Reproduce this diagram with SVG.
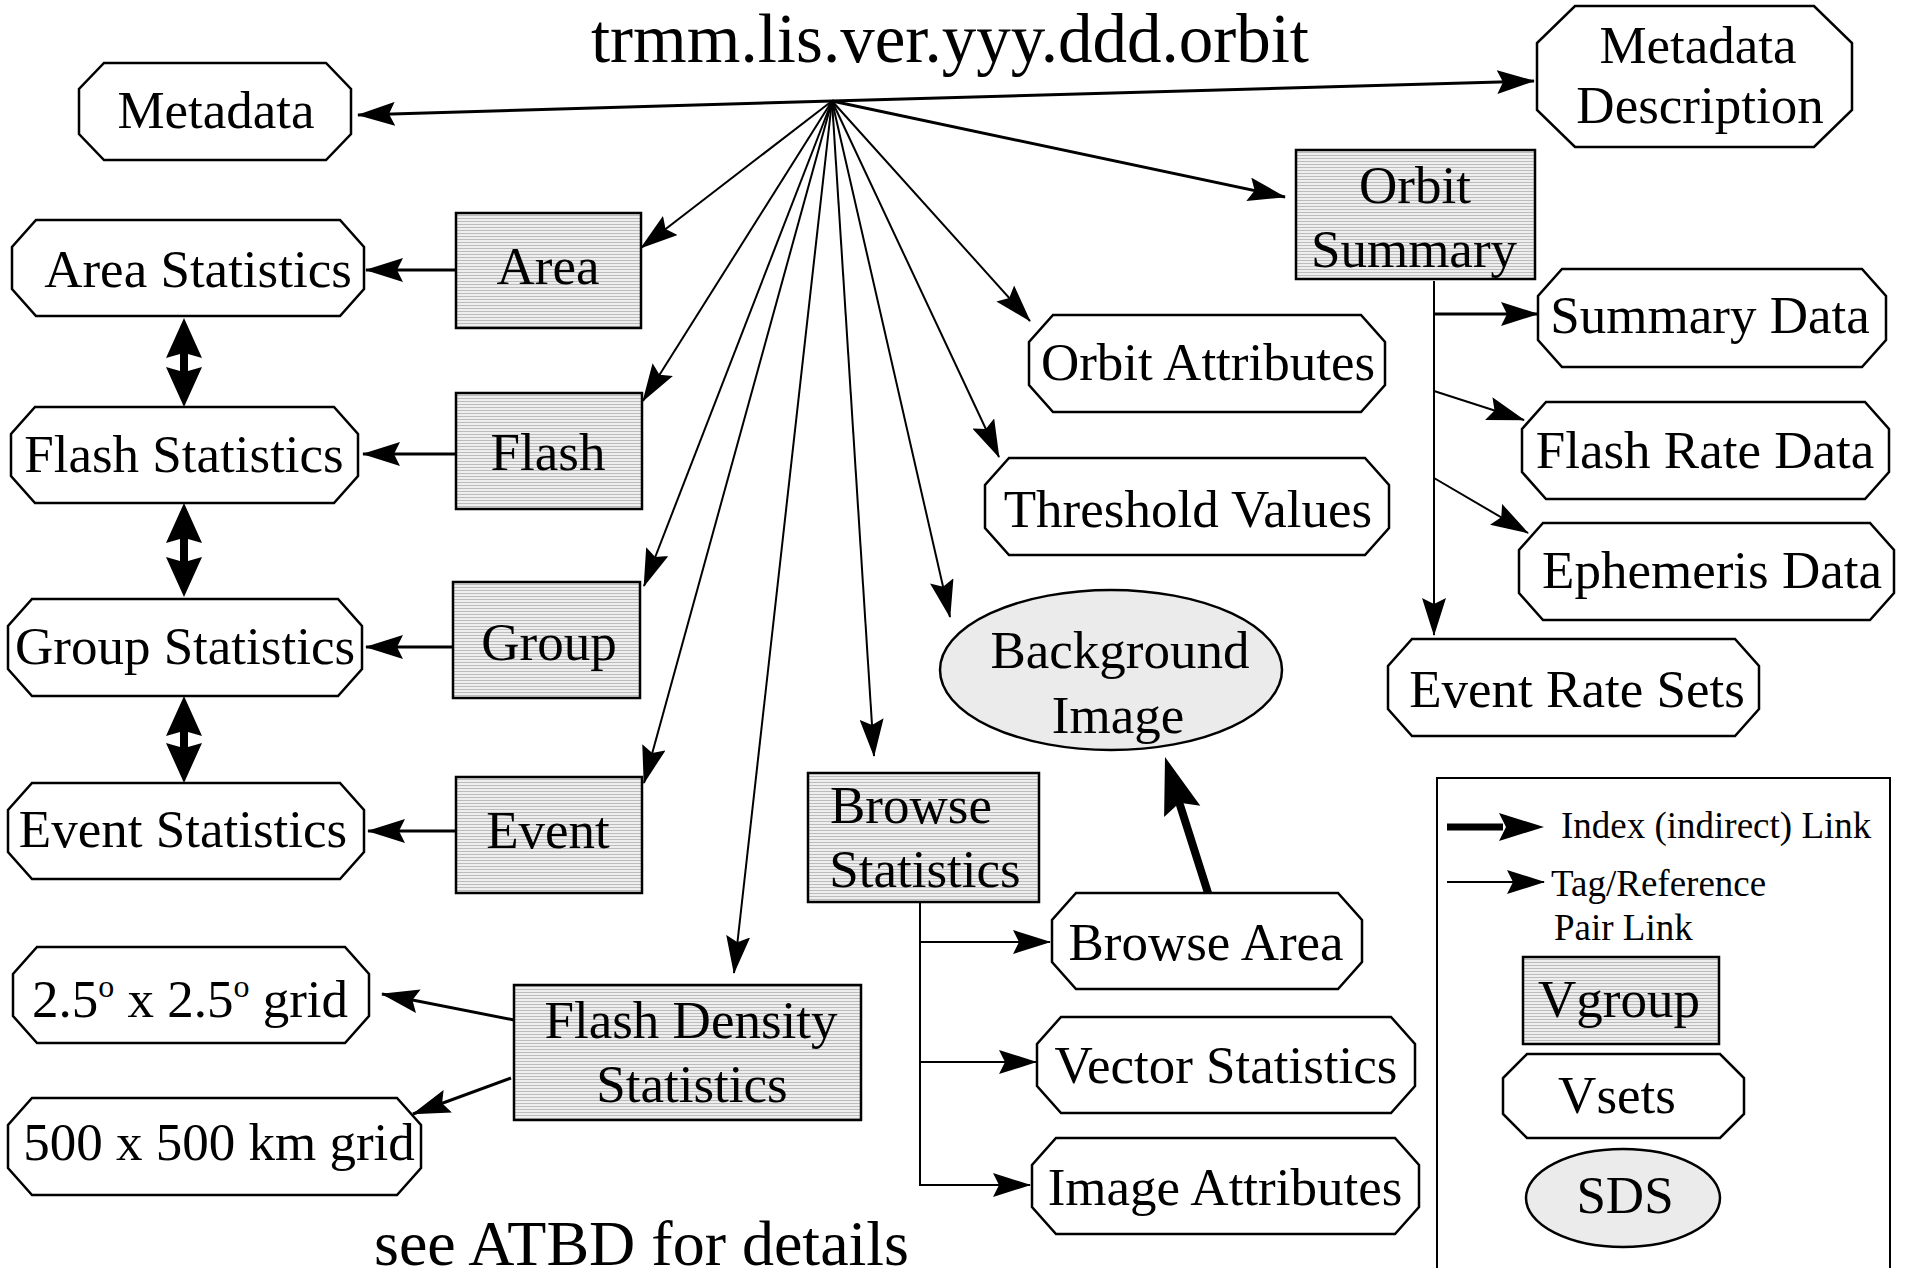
<svg xmlns="http://www.w3.org/2000/svg" width="1906" height="1268" viewBox="0 0 1906 1268">
<style>
text{font-family:"Liberation Serif","Times New Roman",serif;fill:#000}
.t{font-size:53px;text-anchor:middle}
.lg{font-size:37px}
.oct{fill:#fff;stroke:#000;stroke-width:2.5}
.box{fill:url(#hatch);stroke:#000;stroke-width:2.5}
.ell{fill:#ebebeb;stroke:#000;stroke-width:2.5}
.ln{fill:none;stroke:#000;stroke-width:2}
.ln3{fill:none;stroke:#000;stroke-width:3}
.ar{marker-end:url(#ah)}
</style>
<defs>
<pattern id="hatch" width="4" height="3" patternUnits="userSpaceOnUse">
<rect width="4" height="3" fill="#eeeeee"/>
<rect y="2" width="4" height="1" fill="#bcbcbc"/>
</pattern>
<marker id="ah" markerUnits="userSpaceOnUse" markerWidth="38" markerHeight="24" viewBox="0 0 38 24" refX="37" refY="12" orient="auto">
<path d="M0,0 L38,12 L0,24 L6,12 Z" fill="#000"/>
</marker>
</defs>
<rect width="1906" height="1268" fill="#fff"/>

<text x="950" y="62" style="font-size:69px;text-anchor:middle">trmm.lis.ver.yyy.ddd.orbit</text>

<g id="connectors">
<line class="ln3 ar" x1="832" y1="101" x2="358" y2="115"/>
<line class="ln3 ar" x1="832" y1="101" x2="1534" y2="81"/>
<line class="ln3 ar" x1="832" y1="101" x2="1285" y2="197"/>
<line class="ln ar" x1="832" y1="101" x2="1030" y2="321"/>
<line class="ln ar" x1="832" y1="101" x2="999" y2="457"/>
<line class="ln ar" x1="832" y1="101" x2="950" y2="617"/>
<line class="ln ar" x1="832" y1="101" x2="874" y2="756"/>
<line class="ln ar" x1="832" y1="101" x2="734" y2="973"/>
<line class="ln ar" x1="832" y1="101" x2="644" y2="783"/>
<line class="ln ar" x1="832" y1="101" x2="644" y2="586"/>
<line class="ln ar" x1="832" y1="101" x2="643" y2="401"/>
<line class="ln ar" x1="832" y1="101" x2="641" y2="248"/>

<line class="ln3 ar" x1="456" y1="270" x2="366" y2="270"/>
<line class="ln3 ar" x1="456" y1="454" x2="363" y2="454"/>
<line class="ln3 ar" x1="453" y1="647" x2="366" y2="647"/>
<line class="ln3 ar" x1="456" y1="831" x2="368" y2="831"/>
<line class="ln3 ar" x1="514" y1="1020" x2="382" y2="994"/>
<line class="ln3 ar" x1="511" y1="1078" x2="413" y2="1114"/>

<line class="ln ar" x1="1434" y1="281" x2="1434" y2="635"/>
<line class="ln3 ar" x1="1434" y1="314" x2="1538" y2="314"/>
<line class="ln ar" x1="1434" y1="391" x2="1524" y2="420"/>
<line class="ln ar" x1="1434" y1="478" x2="1528" y2="533"/>

<line class="ln" x1="920" y1="902" x2="920" y2="1186"/>
<line class="ln ar" x1="920" y1="942" x2="1050" y2="942"/>
<line class="ln ar" x1="920" y1="1062" x2="1036" y2="1062"/>
<line class="ln ar" x1="920" y1="1185" x2="1030" y2="1185"/>

<line x1="1208" y1="893" x2="1180" y2="805" stroke="#000" stroke-width="8" stroke-linecap="round"/>
<polygon points="1165,757 1200.3,805.7 1179.5,802.8 1164.1,817.1" fill="#000"/>

<path d="M184,318 L202,358 L188,354 L188,371 L202,367 L184,407 L166,367 L180,371 L180,354 L166,358 Z" fill="#000"/>
<path d="M184,503 L202,543 L188,539 L188,561 L202,557 L184,597 L166,557 L180,561 L180,539 L166,543 Z" fill="#000"/>
<path d="M184,696 L202,736 L188,732 L188,747 L202,743 L184,783 L166,743 L180,747 L180,732 L166,736 Z" fill="#000"/>
</g>

<g id="n-metadata"><polygon class="oct" points="104,63 326,63 351,89 351,134 326,160 104,160 79,134 79,89"/><text class="t" x="216" y="128">Metadata</text></g>
<g id="n-metadata-description"><polygon class="oct" points="1575,6 1814,6 1852,43 1852,110 1814,147 1575,147 1537,110 1537,43"/><text class="t" x="1698" y="63">Metadata</text><text class="t" x="1700" y="123">Description</text></g>

<g id="n-area-statistics"><polygon class="oct" points="36,220 340,220 364,247 364,289 340,316 36,316 12,289 12,247"/><text class="t" x="198" y="287">Area Statistics</text></g>
<g id="n-flash-statistics"><polygon class="oct" points="35,407 334,407 358,434 358,476 334,503 35,503 11,476 11,434"/><text class="t" x="184" y="472">Flash Statistics</text></g>
<g id="n-group-statistics"><polygon class="oct" points="32,599 338,599 362,626 362,669 338,696 32,696 8,669 8,626"/><text class="t" x="185" y="664">Group Statistics</text></g>
<g id="n-event-statistics"><polygon class="oct" points="32,783 340,783 364,810 364,852 340,879 32,879 8,852 8,810"/><text class="t" x="183" y="847">Event Statistics</text></g>

<g id="n-area"><rect class="box" x="456" y="213" width="185" height="115"/><text class="t" x="548" y="284">Area</text></g>
<g id="n-flash"><rect class="box" x="456" y="393" width="186" height="116"/><text class="t" x="548" y="470">Flash</text></g>
<g id="n-group"><rect class="box" x="453" y="582" width="187" height="116"/><text class="t" x="549" y="660">Group</text></g>
<g id="n-event"><rect class="box" x="456" y="777" width="186" height="116"/><text class="t" x="548" y="848">Event</text></g>

<g id="n-orbit-summary"><rect class="box" x="1296" y="150" width="239" height="129"/><text class="t" x="1415" y="203">Orbit</text><text class="t" x="1414" y="267">Summary</text></g>
<g id="n-orbit-attributes"><polygon class="oct" points="1053,315 1361,315 1385,342 1385,385 1361,412 1053,412 1029,385 1029,342"/><text class="t" x="1208" y="380">Orbit Attributes</text></g>
<g id="n-summary-data"><polygon class="oct" points="1562,269 1862,269 1886,296 1886,340 1862,367 1562,367 1538,340 1538,296"/><text class="t" x="1710" y="333">Summary Data</text></g>
<g id="n-flash-rate-data"><polygon class="oct" points="1546,402 1865,402 1889,429 1889,472 1865,499 1546,499 1522,472 1522,429"/><text class="t" x="1705" y="468">Flash Rate Data</text></g>
<g id="n-threshold-values"><polygon class="oct" points="1009,458 1365,458 1389,485 1389,528 1365,555 1009,555 985,528 985,485"/><text class="t" x="1188" y="527">Threshold Values</text></g>
<g id="n-ephemeris-data"><polygon class="oct" points="1543,523 1870,523 1894,550 1894,593 1870,620 1543,620 1519,593 1519,550"/><text class="t" x="1712" y="588">Ephemeris Data</text></g>
<g id="n-event-rate-sets"><polygon class="oct" points="1412,639 1735,639 1759,666 1759,709 1735,736 1412,736 1388,709 1388,666"/><text class="t" x="1577" y="707">Event Rate Sets</text></g>

<g id="n-background-image"><ellipse class="ell" cx="1111" cy="670" rx="171" ry="80"/><text class="t" x="1120" y="668">Background</text><text class="t" x="1118" y="733">Image</text></g>

<g id="n-browse-statistics"><rect class="box" x="808" y="773" width="231" height="129"/><text x="830" y="823" style="font-size:53px">Browse</text><text class="t" x="925" y="887">Statistics</text></g>
<g id="n-browse-area"><polygon class="oct" points="1076,893 1338,893 1362,920 1362,962 1338,989 1076,989 1052,962 1052,920"/><text class="t" x="1206" y="960">Browse Area</text></g>
<g id="n-vector-statistics"><polygon class="oct" points="1061,1017 1391,1017 1415,1044 1415,1086 1391,1113 1061,1113 1037,1086 1037,1044"/><text class="t" x="1226" y="1083">Vector Statistics</text></g>
<g id="n-image-attributes"><polygon class="oct" points="1056,1138 1395,1138 1419,1165 1419,1207 1395,1234 1056,1234 1032,1207 1032,1165"/><text class="t" x="1225" y="1205">Image Attributes</text></g>

<g id="n-flash-density"><rect class="box" x="514" y="985" width="347" height="135"/><text class="t" x="691" y="1038">Flash Density</text><text class="t" x="692" y="1102">Statistics</text></g>
<g id="n-grid25"><polygon class="oct" points="37,947 345,947 369,974 369,1016 345,1043 37,1043 13,1016 13,974"/><text class="t" x="190" y="1017">2.5<tspan font-size="32" dy="-20">o</tspan><tspan dy="20"> x 2.5</tspan><tspan font-size="32" dy="-20">o</tspan><tspan dy="20"> grid</tspan></text></g>
<g id="n-grid500"><polygon class="oct" points="32,1098 397,1098 421,1125 421,1168 397,1195 32,1195 8,1168 8,1125"/><text class="t" x="219" y="1160">500 x 500 km grid</text></g>

<text x="374" y="1265" style="font-size:64px">see ATBD for details</text>

<g id="legend">
<rect x="1437" y="778" width="453" height="520" fill="none" stroke="#000" stroke-width="2"/>
<line x1="1447" y1="827" x2="1503" y2="827" stroke="#000" stroke-width="7"/>
<polygon points="1544,827 1499,813 1506,827 1499,841" fill="#000"/>
<text class="lg" x="1561" y="838">Index (indirect) Link</text>
<line class="ln ar" x1="1447" y1="882" x2="1544" y2="882"/>
<text class="lg" x="1551" y="896">Tag/Reference</text>
<text class="lg" x="1554" y="940">Pair Link</text>
<g id="lg-vgroup"><rect class="box" x="1523" y="957" width="196" height="87"/><text class="t" x="1619" y="1017">Vgroup</text></g>
<g id="lg-vsets"><polygon class="oct" points="1527,1054 1720,1054 1744,1078 1744,1114 1720,1138 1527,1138 1503,1114 1503,1078"/><text class="t" x="1617" y="1113">Vsets</text></g>
<g id="lg-sds"><ellipse class="ell" cx="1623" cy="1198" rx="97" ry="49"/><text class="t" x="1625" y="1213">SDS</text></g>
</g>
</svg>
